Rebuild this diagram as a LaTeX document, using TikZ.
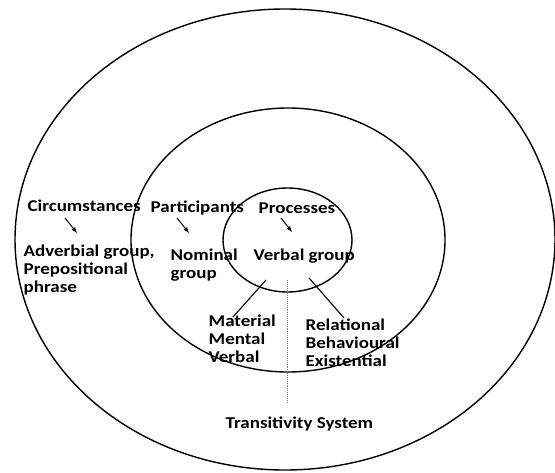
\documentclass[tikz,border=0pt]{standalone}
\usepackage{fontspec}
\setmainfont{Carlito}[FakeStretch=1.15]
\usetikzlibrary{positioning}
\usetikzlibrary{arrows}
\usetikzlibrary{shapes}

\begin{document}
\begin{tikzpicture}[x=1pt, y=-1pt, line width=1.4pt,
    ring/.style={draw, ellipse, inner sep=0pt},
    lbl/.style={inner sep=0pt, anchor=base west, align=left, font=\fontsize{16.5}{18}\selectfont\bfseries},
    arr/.style={-latex, line width=1pt},
    tie/.style={line width=1.1pt}]
    \useasboundingbox (0,0) rectangle (555,472);

    % draw rings
    \node[ring, minimum width=540pt, minimum height=461pt] (outer) at (285,239.5) {};
    \node[ring, minimum width=314pt, minimum height=264pt] (middle) at (288,240) {};
    \node[ring, minimum width=129pt, minimum height=104pt] (inner) at (287.5,240) {};

    % draw labels (multi-line ones sit on their last line)
    \node[lbl] (circ) at (27,211) {Circumstances};
    \node[lbl] (part) at (150,212) {Participants};
    \node[lbl] (proc) at (258,213) {Processes};
    \node[lbl] (adv) at (23,292) {Adverbial group,\\Prepositional\\phrase};
    \node[lbl] (nom) at (170,278) {Nominal\\group};
    \node[lbl] (vg) at (253,260) {Verbal group};
    \node[lbl] (mat) at (208,362) {Material\\Mental\\Verbal};
    \node[lbl] (rel) at (305,366) {Relational\\Behavioural\\Existential};
    \node[lbl] (ts) at (225,428) {Transitivity System};

    % draw arrows
    \draw[arr] ([xshift=38pt,yshift=-7pt]circ.base west) -- ([xshift=54pt,yshift=59pt]adv.base west);
    \draw[arr] ([xshift=27pt,yshift=-6pt]part.base west) -- ([xshift=19pt,yshift=45pt]nom.base west);
    \draw[arr] ([xshift=23pt,yshift=-5pt]proc.base west) -- ([xshift=39pt,yshift=28pt]vg.base west);

    % draw ties
    \draw[tie] ([xshift=13pt,yshift=-20pt]vg.base west) -- ([xshift=25pt,yshift=45pt]mat.base west);
    \draw[tie] ([xshift=56pt,yshift=-18pt]vg.base west) -- ([xshift=39pt,yshift=48pt]rel.base west);
    \draw[densely dotted, gray, line width=0.9pt] ([xshift=34pt,yshift=-20pt]vg.base west) -- ([xshift=62pt,yshift=25pt]ts.base west);
\end{tikzpicture}
\end{document}
